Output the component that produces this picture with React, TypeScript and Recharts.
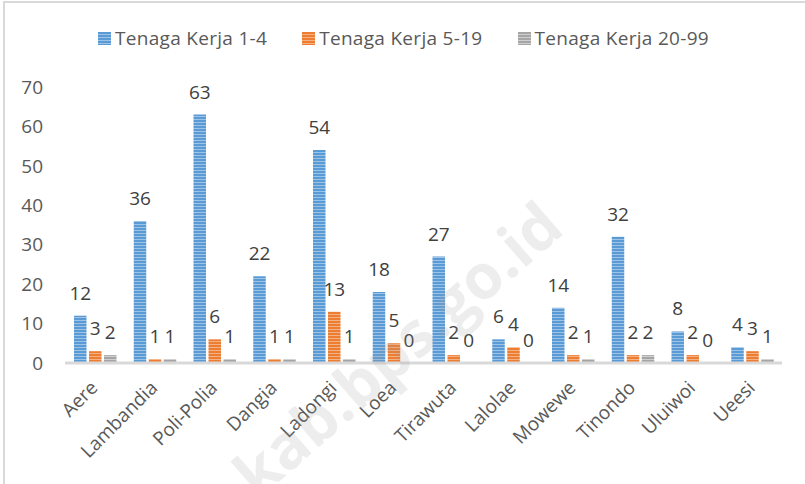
import React from 'react';
import { BarChart, Bar, XAxis, YAxis, LabelList } from 'recharts';

const categories = ['Aere', 'Lambandia', 'Poli-Polia', 'Dangia', 'Ladongi', 'Loea', 'Tirawuta', 'Lalolae', 'Mowewe', 'Tinondo', 'Uluiwoi', 'Ueesi'];
const tenagaKerja1to4 = [12, 36, 63, 22, 54, 18, 27, 6, 14, 32, 8, 4];
const tenagaKerja5to19 = [3, 1, 6, 1, 13, 5, 2, 4, 2, 2, 2, 3];
const tenagaKerja20to99 = [2, 1, 1, 1, 1, 0, 0, 0, 1, 2, 0, 1];
const seriesNames = ['Tenaga Kerja 1-4', 'Tenaga Kerja 5-19', 'Tenaga Kerja 20-99'];
const yTicks = [0, 10, 20, 30, 40, 50, 60, 70];
const watermark = 'kab.bps.go.id';

const data = categories.map((c, i) => ({
  name: c,
  a: tenagaKerja1to4[i],
  b: tenagaKerja5to19[i],
  c: tenagaKerja20to99[i],
}));

const FONT = '"Open Sans", sans-serif';
const FS = 19;
const colors = [
  { base: '#5B9BD5', light: '#9DC3E6', id: 'patBlue' },
  { base: '#ED7D31', light: '#F4B183', id: 'patOrange' },
  { base: '#A5A5A5', light: '#CFCFCF', id: 'patGray' },
];
const keys = ['a', 'b', 'c'];

const Patterns = () => (
  <defs>
    {colors.map((c) => (
      <pattern key={c.id} id={c.id} width="4" height="3" patternUnits="userSpaceOnUse">
        <rect x="0" y="0" width="4" height="3" fill={c.base} />
        <rect x="0" y="2" width="4" height="1" fill={c.light} />
      </pattern>
    ))}
  </defs>
);

const XTick = (props: any) => {
  const { x, y, payload } = props;
  const px = x + 4;
  const py = y + 26;
  return (
    <text
      x={px}
      y={py}
      transform={`rotate(-45, ${px}, ${py})`}
      textAnchor="end"
      fill="#595959"
      fontSize={FS}
      fontFamily={FONT}
    >
      {payload.value}
    </text>
  );
};

const Legend = () => (
  <div
    style={{
      position: 'absolute',
      top: 25,
      left: 0,
      width: 805,
      display: 'flex',
      justifyContent: 'center',
      fontFamily: FONT,
      fontSize: FS,
      color: '#595959',
      paddingLeft: 2,
      boxSizing: 'border-box',
      lineHeight: '26px',
      letterSpacing: '0.3px',
    }}
  >
    {seriesNames.map((n, i) => (
      <div key={n} style={{ display: 'flex', alignItems: 'center', marginRight: i < 2 ? 35 : 0 }}>
        <svg width={13} height={13} style={{ marginRight: 4 }}>
          <defs>
            <pattern id={`lg${i}`} width="4" height="3" patternUnits="userSpaceOnUse">
              <rect x="0" y="0" width="4" height="3" fill={colors[i].base} />
              <rect x="0" y="2" width="4" height="1" fill={colors[i].light} />
            </pattern>
          </defs>
          <rect x={0} y={0} width={13} height={13} fill={`url(#lg${i})`} />
        </svg>
        <span>{n}</span>
      </div>
    ))}
  </div>
);

export default function App() {
  return (
    <div
      style={{
        position: 'absolute',
        top: 0,
        left: 0,
        width: 805,
        height: 484,
        background: '#fff',
        overflow: 'hidden',
      }}
    >
      <div
        style={{
          position: 'absolute',
          top: 1,
          left: 3,
          width: 820,
          height: 500,
          borderTop: '2px solid #d9d9d9',
          borderLeft: '2px solid #d9d9d9',
        }}
      />
      <Legend />
      <BarChart
        width={805}
        height={484}
        data={data}
        margin={{ top: 87, right: 23, bottom: 21, left: 0 }}
        barGap={2.5}
        style={{ position: 'absolute', top: 0, left: 0 }}
      >
        <Patterns />
        <XAxis
          dataKey="name"
          axisLine={{ stroke: '#d9d9d9', strokeWidth: 3 }}
          tickLine={false}
          tickSize={0}
          tickMargin={0}
          height={100}
          interval={0}
          tick={<XTick />}
        />
        <YAxis
          domain={[0, 70]}
          ticks={yTicks}
          axisLine={false}
          tickLine={false}
          tickSize={0}
          tickMargin={22}
          width={65}
          tick={{ fill: '#595959', fontSize: FS, fontFamily: FONT }}
        />
        {keys.map((k, i) => (
          <Bar
            key={k}
            dataKey={k}
            name={seriesNames[i]}
            fill={`url(#${colors[i].id})`}
            barSize={12.5}
            minPointSize={0.01}
            isAnimationActive={false}
          >
            <LabelList
              dataKey={k}
              position="top"
              offset={16}
              fill="#404040"
              fontSize={FS}
              fontFamily={FONT}
            />
          </Bar>
        ))}
      </BarChart>
      <svg
        width={805}
        height={484}
        style={{ position: 'absolute', top: 0, left: 0, pointerEvents: 'none' }}
      >
        <text
          x={412}
          y={366}
          transform="rotate(-41, 412, 366)"
          textAnchor="middle"
          fontFamily={'"Open Sans", sans-serif'}
          fontWeight="bold"
          fontSize={62}
          fill="#9a9a9a"
          fillOpacity={0.18}
        >
          {watermark}
        </text>
      </svg>
    </div>
  );
}
